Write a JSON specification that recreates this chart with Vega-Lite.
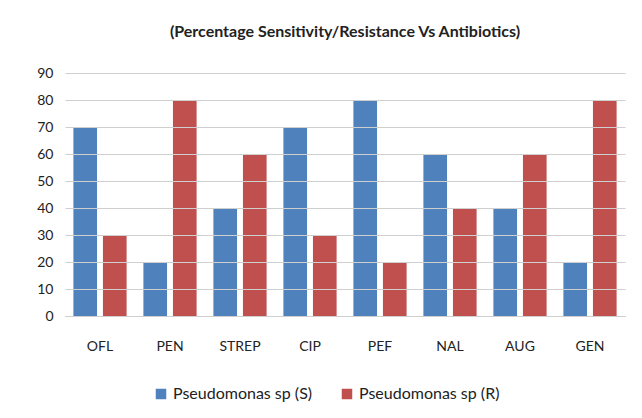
{
  "$schema": "https://vega.github.io/schema/vega-lite/v6.json",
  "width": 560,
  "height": 243,
  "autosize": {"type": "none"},
  "padding": {"left": 65, "top": 73, "right": 17, "bottom": 102},
  "background": "white",
  "title": {
    "text": "(Percentage Sensitivity/Resistance Vs Antibiotics)",
    "font": "Lato",
    "fontSize": 16,
    "fontWeight": "bold",
    "color": "#222222",
    "anchor": "middle",
    "offset": 26
  },
  "data": {
    "values": [
      {"drug": "OFL", "series": "Pseudomonas sp (S)", "value": 70},
      {"drug": "OFL", "series": "Pseudomonas sp (R)", "value": 30},
      {"drug": "PEN", "series": "Pseudomonas sp (S)", "value": 20},
      {"drug": "PEN", "series": "Pseudomonas sp (R)", "value": 80},
      {"drug": "STREP", "series": "Pseudomonas sp (S)", "value": 40},
      {"drug": "STREP", "series": "Pseudomonas sp (R)", "value": 60},
      {"drug": "CIP", "series": "Pseudomonas sp (S)", "value": 70},
      {"drug": "CIP", "series": "Pseudomonas sp (R)", "value": 30},
      {"drug": "PEF", "series": "Pseudomonas sp (S)", "value": 80},
      {"drug": "PEF", "series": "Pseudomonas sp (R)", "value": 20},
      {"drug": "NAL", "series": "Pseudomonas sp (S)", "value": 60},
      {"drug": "NAL", "series": "Pseudomonas sp (R)", "value": 40},
      {"drug": "AUG", "series": "Pseudomonas sp (S)", "value": 40},
      {"drug": "AUG", "series": "Pseudomonas sp (R)", "value": 60},
      {"drug": "GEN", "series": "Pseudomonas sp (S)", "value": 20},
      {"drug": "GEN", "series": "Pseudomonas sp (R)", "value": 80}
    ]
  },
  "mark": {"type": "bar"},
  "encoding": {
    "x": {
      "field": "drug",
      "type": "nominal",
      "sort": ["OFL", "PEN", "STREP", "CIP", "PEF", "NAL", "AUG", "GEN"],
      "scale": {"paddingInner": 0.24, "paddingOuter": 0.12},
      "axis": {
        "title": null,
        "labelAngle": 0,
        "labelPadding": 23,
        "labelFont": "Lato",
        "labelFontSize": 14,
        "labelColor": "#222222",
        "ticks": false,
        "domain": true,
        "domainColor": "#b0b0b0",
        "grid": false
      }
    },
    "xOffset": {
      "field": "series",
      "type": "nominal",
      "sort": ["Pseudomonas sp (S)", "Pseudomonas sp (R)"],
      "scale": {"paddingInner": 0.2}
    },
    "y": {
      "field": "value",
      "type": "quantitative",
      "scale": {"domain": [0, 90]},
      "axis": {
        "title": null,
        "values": [0, 10, 20, 30, 40, 50, 60, 70, 80, 90],
        "labelFont": "Lato",
        "labelFontSize": 14,
        "labelColor": "#222222",
        "labelPadding": 12,
        "ticks": false,
        "domain": false,
        "grid": true,
        "gridColor": "#cfcfcf",
        "gridWidth": 1.2,
        "zindex": 1
      }
    },
    "color": {
      "field": "series",
      "type": "nominal",
      "sort": ["Pseudomonas sp (S)", "Pseudomonas sp (R)"],
      "scale": {"range": ["#4F81BD", "#C0504D"]},
      "legend": {
        "title": null,
        "orient": "none",
        "legendX": 88,
        "legendY": 313,
        "direction": "horizontal",
        "symbolType": "square",
        "symbolSize": 110,
        "symbolStrokeWidth": 0,
        "labelFont": "Lato",
        "labelFontSize": 16,
        "labelColor": "#222222",
        "columnPadding": 26
      }
    }
  },
  "config": {"view": {"stroke": null}}
}
